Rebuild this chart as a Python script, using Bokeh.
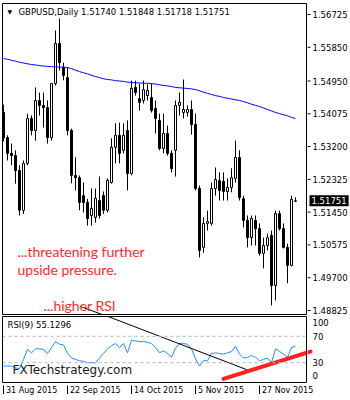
import pandas as pd
from bokeh.plotting import figure
from bokeh.models import (ColumnDataSource, Range1d, Label, LabelSet, Span)
from bokeh.core.properties import value
from bokeh.layouts import column, row
from bokeh.embed import file_html
from bokeh.resources import INLINE

# ---------------- data ----------------
dates = pd.bdate_range("2015-08-31", "2015-12-10")

opens = [1.5411, 1.5344, 1.5302, 1.5296, 1.5256, 1.5150, 1.5275, 1.5395, 1.5363, 1.5443,
         1.5430, 1.5424, 1.5344, 1.5488, 1.5595, 1.5531, 1.5504, 1.5363, 1.5243, 1.5237,
         1.5189, 1.5171, 1.5136, 1.5131, 1.5176, 1.5189, 1.5150, 1.5224, 1.5318, 1.5350,
         1.5310, 1.5363, 1.5248, 1.5478, 1.5448, 1.5443, 1.5456, 1.5451, 1.5422, 1.5390,
         1.5315, 1.5355, 1.5302, 1.5310, 1.5430, 1.5411, 1.5411, 1.5419, 1.5379, 1.5208,
         1.5051, 1.5115, 1.5115, 1.5208, 1.5229, 1.5227, 1.5200, 1.5211, 1.5235, 1.5291,
         1.5181, 1.5123, 1.5077, 1.5123, 1.5101, 1.5035, 1.5056, 1.5083, 1.4949, 1.5141,
         1.5101, 1.5051, 1.5003, 1.51740]
highs = [1.5432, 1.5350, 1.5328, 1.5310, 1.5270, 1.5283, 1.5408, 1.5403, 1.5478, 1.5464,
         1.5464, 1.5443, 1.5490, 1.5630, 1.5662, 1.5544, 1.5531, 1.5368, 1.5291, 1.5243,
         1.5224, 1.5180, 1.5208, 1.5208, 1.5240, 1.5200, 1.5235, 1.5342, 1.5382, 1.5384,
         1.5382, 1.5390, 1.5496, 1.5496, 1.5488, 1.5496, 1.5486, 1.5488, 1.5443, 1.5408,
         1.5408, 1.5376, 1.5310, 1.5443, 1.5464, 1.5499, 1.5430, 1.5443, 1.5408, 1.5216,
         1.5131, 1.5149, 1.5224, 1.5264, 1.5251, 1.5251, 1.5235, 1.5262, 1.5336, 1.5310,
         1.5189, 1.5136, 1.5136, 1.5136, 1.5115, 1.5077, 1.5088, 1.5096, 1.5149, 1.5149,
         1.5115, 1.5061, 1.5189, 1.51848]
lows = [1.5334, 1.5283, 1.5270, 1.5221, 1.5136, 1.5140, 1.5270, 1.5350, 1.5336, 1.5403,
        1.5371, 1.5328, 1.5336, 1.5483, 1.5523, 1.5497, 1.5350, 1.5222, 1.5203, 1.5150,
        1.5144, 1.5109, 1.5109, 1.5117, 1.5128, 1.5140, 1.5144, 1.5221, 1.5275, 1.5275,
        1.5302, 1.5203, 1.5243, 1.5456, 1.5416, 1.5435, 1.5443, 1.5411, 1.5355, 1.5310,
        1.5302, 1.5296, 1.5251, 1.5240, 1.5403, 1.5395, 1.5400, 1.5352, 1.5203, 1.5024,
        1.5037, 1.5096, 1.5109, 1.5189, 1.5176, 1.5176, 1.5176, 1.5198, 1.5224, 1.5176,
        1.5104, 1.5051, 1.5056, 1.5056, 1.5029, 1.4995, 1.5043, 1.4896, 1.4909, 1.5096,
        1.5048, 1.4955, 1.5000, 1.51718]
closes = [1.5343, 1.5302, 1.5296, 1.5256, 1.5150, 1.5275, 1.5395, 1.5363, 1.5443, 1.5430,
          1.5424, 1.5344, 1.5488, 1.5595, 1.5544, 1.5510, 1.5363, 1.5243, 1.5237, 1.5171,
          1.5171, 1.5128, 1.5155, 1.5182, 1.5136, 1.5150, 1.5230, 1.5318, 1.5350, 1.5302,
          1.5350, 1.5248, 1.5475, 1.5464, 1.5438, 1.5472, 1.5470, 1.5416, 1.5395, 1.5315,
          1.5355, 1.5302, 1.5261, 1.5430, 1.5438, 1.5419, 1.5419, 1.5379, 1.5208, 1.5043,
          1.5115, 1.5120, 1.5208, 1.5232, 1.5203, 1.5200, 1.5211, 1.5237, 1.5291, 1.5184,
          1.5123, 1.5077, 1.5128, 1.5101, 1.5035, 1.5056, 1.5077, 1.4949, 1.5141, 1.5101,
          1.5051, 1.5003, 1.5179, 1.51751]
ma_values = [1.5555, 1.5553, 1.5550, 1.5548, 1.5545, 1.5543, 1.5541, 1.5539, 1.5538, 1.5536,
             1.5535, 1.5534, 1.5533, 1.5533, 1.5532, 1.5532, 1.5531, 1.5528, 1.5524, 1.5520,
             1.5517, 1.5514, 1.5510, 1.5507, 1.5504, 1.5501, 1.5499, 1.5498, 1.5496, 1.5495,
             1.5494, 1.5492, 1.5491, 1.5490, 1.5490, 1.5489, 1.5489, 1.5488, 1.5487, 1.5485,
             1.5483, 1.5482, 1.5480, 1.5478, 1.5477, 1.5476, 1.5475, 1.5474, 1.5472, 1.5469,
             1.5465, 1.5462, 1.5459, 1.5456, 1.5454, 1.5451, 1.5449, 1.5447, 1.5445, 1.5443,
             1.5440, 1.5437, 1.5433, 1.5430, 1.5427, 1.5423, 1.5419, 1.5415, 1.5411, 1.5408,
             1.5405, 1.5402, 1.5398, 1.5395]
rsi_values = [25, 25, 25, 22, 21, 35, 50, 45, 51, 51,
              50, 44, 53, 62, 58, 57, 44, 37, 35, 33,
              32, 30, 30, 30, 37, 44, 51, 56, 59, 53,
              59, 45, 64, 63, 62, 62, 61, 59, 53, 45,
              48, 44, 38, 52, 59, 59, 58, 51, 36, 25,
              33, 33, 44, 45, 44, 43, 45, 47, 55, 43,
              37, 38, 41, 38, 33, 35, 37, 30, 51, 47,
              43, 38, 53, 55.1296]

price_ticks = [1.56725, 1.55850, 1.54950, 1.54075, 1.53200, 1.52325, 1.51450,
               1.50575, 1.49700, 1.48825]
rsi_levels = [70, 30]
rsi_tick_values = [100, 70, 30, 0]
date_tick_labels = ["31 Aug 2015", "22 Sep 2015", "14 Oct 2015", "5 Nov 2015", "27 Nov 2015"]

# hand-drawn trendlines (bar index / indicator value)
black_tl_bars = [19.25, 61.0]
black_tl_rsi = [116.0, 19.0]
black_tl_price = [1.4893, 1.4730]
red_tl_bars = [55.0, 76.75]
red_tl_rsi = [5.4, 46.9]

symbol = "GBPUSD,Daily"
site = "FXTechstrategy.com"
notes = ["...threatening further", "upside pressure.", "...higher RSI"]

# ---------------- helpers ----------------
MT = "DejaVu Sans"
MTS = "8.5px"
PX_PER_BAR = 4.0
idx = list(range(len(opens)))
tick_idx = [int(dates.get_loc(pd.to_datetime(s, format="%d %b %Y"))) for s in date_tick_labels]


def bare(fig):
    fig.xgrid.visible = False
    fig.ygrid.visible = False
    fig.background_fill_color = "white"
    fig.border_fill_color = "white"
    return fig


common = dict(output_backend="svg", toolbar_location=None,
              x_axis_location=None, y_axis_location=None)

# ---------------- main price panel ----------------
price_range = Range1d(1.487182, 1.570186)
bars_start = -0.25
bars_range = Range1d(bars_start, bars_start + 304 / PX_PER_BAR)
p = bare(figure(width=307, height=315, x_range=bars_range, y_range=price_range,
                min_border_left=2, min_border_right=1, min_border_top=3,
                min_border_bottom=1, **common))
p.outline_line_color = "black"
p.outline_line_width = 1

src = ColumnDataSource(dict(
    x=idx, o=opens, h=highs, l=lows, c=closes,
    top=[max(a, b) for a, b in zip(opens, closes)],
    bot=[min(a, b) for a, b in zip(opens, closes)],
    fill=["white" if c >= o else "black" for o, c in zip(opens, closes)],
))
p.segment(x0="x", y0="l", x1="x", y1="h", source=src, line_color="black", line_width=1)
p.vbar(x="x", width=0.5, top="top", bottom="bot", fill_color="fill", line_color="black",
       line_width=1, source=src)
p.line(idx, ma_values, line_color="#0000ff", line_width=1)
p.line(black_tl_bars, black_tl_price, line_color="black", line_width=1)

header = "{}  {:.5f} {:.5f} {:.5f} {:.5f}".format(symbol, opens[-1], highs[-1], lows[-1], closes[-1])
p.add_layout(Label(x=5, y=303, x_units="screen", y_units="screen", text="\u25BC",
                   text_font=MT, text_font_size="6px", text_baseline="middle", text_color="black"))
p.add_layout(Label(x=16, y=303, x_units="screen", y_units="screen", text=header,
                   text_font=MT, text_font_size=MTS, text_baseline="middle", text_color="black"))
red = "#ff2a2a"
for txt, xx, yy in zip(notes, [15, 15, 41], [63, 45, 9]):
    p.add_layout(Label(x=xx, y=yy, x_units="screen", y_units="screen", text=txt,
                       text_font="Lato", text_font_size="14px", text_baseline="middle",
                       text_color=red))

# ---------------- price scale (right) ----------------
ps = bare(figure(width=43, height=315, x_range=Range1d(0, 43), y_range=price_range,
                 min_border_left=0, min_border_right=0, min_border_top=3,
                 min_border_bottom=1, **common))
ps.outline_line_color = None
tick_src = ColumnDataSource(dict(y=price_ticks, t=["{:.5f}".format(v) for v in price_ticks]))
ps.segment(x0=0, y0="y", x1=3, y1="y", source=tick_src, line_color="black", line_width=1)
ps.add_layout(LabelSet(x=5, y="y", text="t", source=tick_src, text_font=value(MT),
                       text_font_size=value(MTS), text_baseline="middle", text_color="black"))
ps.add_layout(Label(x=2, y=closes[-1], text="{:.5f}".format(closes[-1]), text_font=MT,
                    text_font_size=MTS, text_baseline="middle", text_color="white",
                    background_fill_color="black", padding=2))

# ---------------- RSI panel ----------------
rsi_range = Range1d(0, 100)
r = bare(figure(width=307, height=68, x_range=bars_range, y_range=rsi_range,
                min_border_left=2, min_border_right=1, min_border_top=1,
                min_border_bottom=1, **common))
r.outline_line_color = "black"
for lv in rsi_levels:
    r.add_layout(Span(location=lv, dimension="width", line_color="#b4b4b4",
                      line_dash="3 3", line_width=1))
r.line(idx, rsi_values, line_color="#1e90ff", line_width=1)
r.line(black_tl_bars, black_tl_rsi, line_color="black", line_width=1)
r.line(red_tl_bars, red_tl_rsi, line_color="#ff2020", line_width=4, line_cap="round")
r.add_layout(Label(x=5, y=58, x_units="screen", y_units="screen",
                   text="RSI(9) {:.4f}".format(rsi_values[-1]), text_font=MT,
                   text_font_size=MTS, text_baseline="middle", text_color="black"))
r.add_layout(Label(x=10, y=13, x_units="screen", y_units="screen", text=site,
                   text_font=MT, text_font_size="12px", text_baseline="middle",
                   text_color="#1a1a1a"))

# ---------------- RSI scale (right) ----------------
rs = bare(figure(width=43, height=68, x_range=Range1d(0, 43), y_range=rsi_range,
                 min_border_left=0, min_border_right=0, min_border_top=1,
                 min_border_bottom=1, **common))
rs.outline_line_color = None
lab_src = ColumnDataSource(dict(v=rsi_tick_values, t=[str(v) for v in rsi_tick_values],
                                dy=[-6 if v == 100 else (7 if v == 0 else 0) for v in rsi_tick_values]))
rs.add_layout(LabelSet(x=5, y="v", text="t", y_offset="dy", source=lab_src, text_font=value(MT),
                       text_font_size=value(MTS), text_baseline="middle", text_color="black"))
# the red trendline overshoots the RSI frame into the scale strip: same line, mapped to strip pixels
red_px = [(b - bars_range.end) * PX_PER_BAR - 1 for b in red_tl_bars]
rs.line(red_px, red_tl_rsi, line_color="#ff2020", line_width=4, line_cap="round")

# ---------------- date strip ----------------
d_start = bars_start - 2 / PX_PER_BAR
d = bare(figure(width=350, height=17, x_range=Range1d(d_start, d_start + 350 / PX_PER_BAR),
                y_range=Range1d(0, 17), min_border_left=0, min_border_right=0,
                min_border_top=0, min_border_bottom=0, **common))
d.outline_line_color = None
date_src = ColumnDataSource(dict(x=tick_idx, t=date_tick_labels))
d.segment(x0="x", y0=6.5, x1="x", y1=15, source=date_src, line_color="black", line_width=1)
d.add_layout(LabelSet(x="x", y=10, text="t", x_offset=2.5, source=date_src, text_font=value(MT),
                      text_font_size=value("8px"), text_align="left", text_baseline="middle",
                      text_color="black"))

layout = column(row(p, ps, spacing=0), row(r, rs, spacing=0), d, spacing=0)
open("out.html", "w").write(file_html(layout, INLINE))
